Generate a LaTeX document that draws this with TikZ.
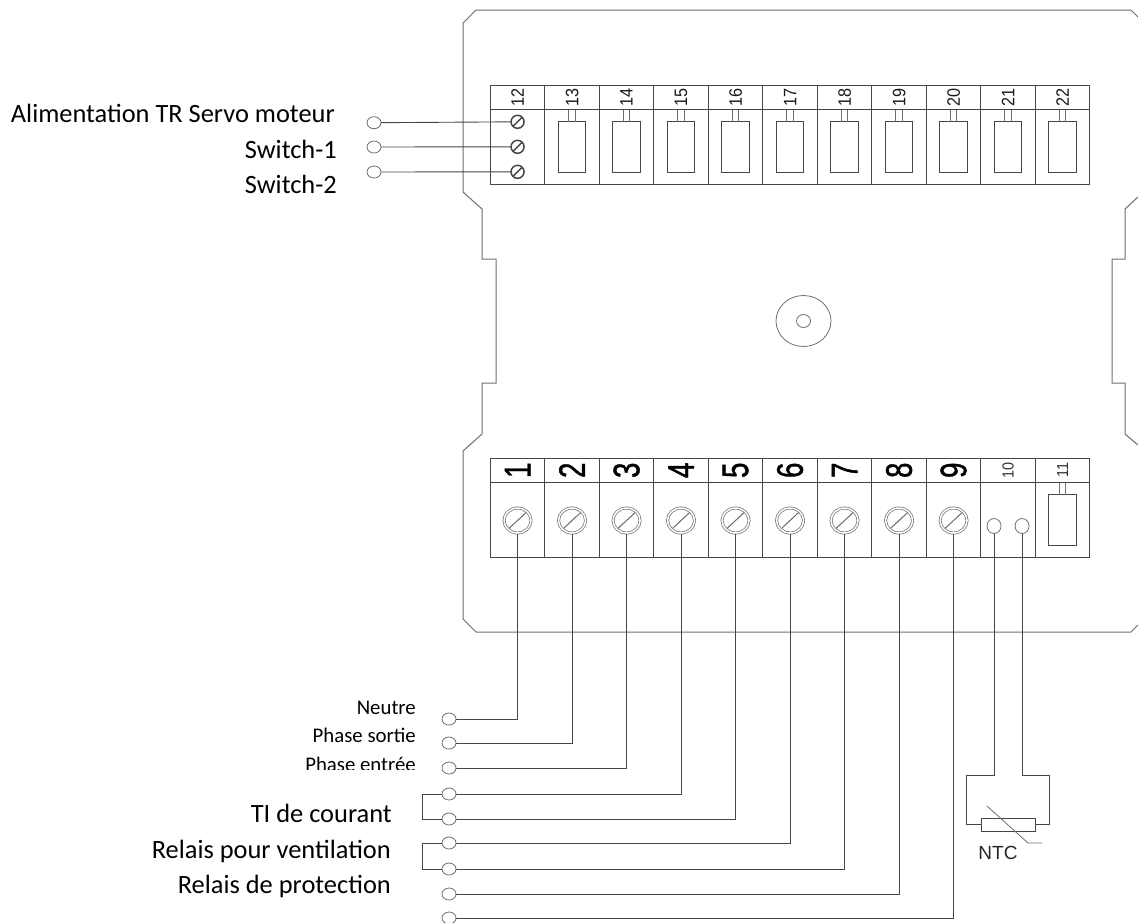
\documentclass[tikz,border=0pt]{standalone}
\usepackage{fontspec}
\setmainfont{Carlito}
\newfontfamily\arialfont{Liberation Sans}
\newfontfamily\arialheavy[FakeBold=1.2]{Liberation Sans}
\usepackage{tikz}
\usetikzlibrary{shapes.geometric,positioning}
\definecolor{outlinegray}{RGB}{110,110,110}
\definecolor{wiregray}{RGB}{70,70,70}

\begin{document}
\begin{tikzpicture}[
    x=1pt, y=-1pt,
    numcell/.style={rectangle, draw=wiregray, line width=0.8pt, minimum width=54.5pt, minimum height=24.5pt, inner sep=0pt, outer sep=0pt},
    bodycell/.style={rectangle, draw=wiregray, line width=0.8pt, minimum width=54.5pt, minimum height=75pt, inner sep=0pt, outer sep=0pt},
    plug/.style={rectangle, draw=wiregray, line width=0.8pt, minimum width=27.5pt, minimum height=51pt, inner sep=0pt, outer sep=0pt},
    stem/.style={draw=outlinegray, line width=0.8pt},
    outline/.style={draw=outlinegray, line width=1pt},
    wire/.style={draw=wiregray, line width=0.9pt},
    lug/.style={ellipse, draw=outlinegray, line width=0.8pt, minimum width=14pt, minimum height=12pt, inner sep=0pt, outer sep=0pt},
    hole/.style={ellipse, draw=outlinegray, line width=0.8pt, minimum width=14pt, minimum height=15pt, inner sep=0pt, outer sep=0pt},
    screwsmall/.style={ellipse, draw=wiregray, line width=1.5pt, minimum width=13pt, minimum height=13pt, inner sep=0pt, outer sep=0pt,
        path picture={\draw[wiregray, line width=1.5pt] (path picture bounding box.south west) -- (path picture bounding box.north east);}},
    screwbig/.style={ellipse, draw=outlinegray, line width=0.7pt, double, double distance=1.5pt, minimum width=27pt, minimum height=25pt, inner sep=0pt, outer sep=1pt,
        path picture={\draw[outlinegray, line width=0.7pt] ([xshift=-1.7pt, yshift=-1.7pt]path picture bounding box.south west) -- ([xshift=-1.7pt, yshift=-1.7pt]path picture bounding box.north east);
        \draw[outlinegray, line width=0.7pt] ([xshift=1.7pt, yshift=1.7pt]path picture bounding box.south west) -- ([xshift=1.7pt, yshift=1.7pt]path picture bounding box.north east);}},
    smallnum/.style={font=\arialfont\fontsize{18}{18}\selectfont, text=black!90, rotate=90, xscale=0.9, inner sep=0pt},
    tinynum/.style={font=\arialfont\fontsize{16}{16}\selectfont, text=black!80, rotate=90, xscale=0.9, inner sep=0pt},
    bignum/.style={font=\arialheavy\fontsize{37}{37}\selectfont, rotate=90, xscale=0.75, inner sep=0pt},
    biglabel/.style={font=\fontsize{26.4}{26.4}\selectfont, anchor=base east, inner sep=0pt},
    smalllabel/.style={font=\fontsize{20.8}{20.8}\selectfont, anchor=base east, inner sep=0pt}
]
\useasboundingbox (0,0) rectangle (1138,922);

% Housing
\draw[outline] (1138,17) -- (1131,10) -- (476,10) -- (463,23) -- (463,192) -- (482,209) -- (482,259) -- (496,259) -- (496,383) -- (482,383) -- (482,434) -- (463,451) -- (463,619) -- (476,632) -- (1131,632) -- (1138,625);
\draw[outline] (1138,197) -- (1125,209) -- (1125,259) -- (1112,259) -- (1112,383) -- (1125,383) -- (1125,434) -- (1138,445);

% Centre hole
\node[ellipse, draw=outlinegray, line width=0.8pt, minimum width=55pt, minimum height=51pt] (washer) at (803.5,321) {};
\node[ellipse, draw=outlinegray, line width=0.8pt, minimum width=14pt, minimum height=13pt, inner sep=0pt] (bore) at (803.5,321) {};

% Upper terminal block
\node[numcell, anchor=north west] (num12) at (490.3,85.3) {};
\node[bodycell, below=0pt of num12] (body12) {};
\foreach \n [evaluate=\n as \p using int(\n-1)] in {13,...,22} {
    \node[numcell, right=0pt of num\p] (num\n) {};
    \node[bodycell, below=0pt of num\n] (body\n) {};
    \node[plug, below=12pt of body\n.north] (plug\n) {};
    \draw[stem] ([xshift=-3.3pt]plug\n.north) -- ([xshift=-3.3pt]body\n.north);
    \draw[stem] ([xshift=3.3pt]plug\n.north) -- ([xshift=3.3pt]body\n.north);
}
\foreach \n in {12,...,22} {
    \node[smallnum] at (num\n) {\n};
}
\node[screwsmall, below=5.5pt of body12.north] (screwa) {};
\node[screwsmall] (screwb) at ([yshift=-37pt]body12.north) {};
\node[screwsmall] (screwc) at ([yshift=-62pt]body12.north) {};

% Lower terminal block
\node[numcell, anchor=north west] (bnum1) at (490.3,458) {};
\node[bodycell, below=0pt of bnum1] (bbody1) {};
\foreach \n [evaluate=\n as \p using int(\n-1)] in {2,...,11} {
    \node[numcell, right=0pt of bnum\p] (bnum\n) {};
    \node[bodycell, below=0pt of bnum\n] (bbody\n) {};
}
\foreach \n in {1,...,9} {
    \node[bignum] at (bnum\n) {\n};
    \node[screwbig] (screw\n) at ([yshift=-38pt]bbody\n.north) {};
}
\node[tinynum] at (bnum10) {10};
\node[tinynum] at (bnum11) {11};
\node[hole] (holea) at ([xshift=-14pt,yshift=-43.5pt]bbody10.north) {};
\node[hole] (holeb) at ([xshift=14pt,yshift=-43.5pt]bbody10.north) {};
\node[plug, below=12pt of bbody11.north] (plug11) {};
\draw[stem] ([xshift=-3.3pt]plug11.north) -- ([xshift=-3.3pt]bbody11.north);
\draw[stem] ([xshift=3.3pt]plug11.north) -- ([xshift=3.3pt]bbody11.north);

% Terminal lugs
\node[lug] (luga) at (374,122.7) {};
\node[lug] (lugb) at (374,147) {};
\node[lug] (lugc) at (374,172) {};
\node[lug] (lug1) at (449,719) {};
\node[lug] (lug2) at (449,743) {};
\node[lug] (lug3) at (449,768) {};
\node[lug] (lug4) at (449,794) {};
\node[lug] (lug5) at (449,819) {};
\node[lug] (lug6) at (449,843) {};
\node[lug] (lug7) at (449,869) {};
\node[lug] (lug8) at (449,894) {};
\node[lug] (lug9) at (449,918) {};
\coordinate (bracketti) at (422,800);
\coordinate (bracketrel) at (422,850);

% Wires - upper block
\draw[wire] (luga) -- (screwa);
\draw[wire] (lugb) -- (screwb);
\draw[wire] (lugc) -- (screwc);

% Wires - lower block
\foreach \n in {1,...,9} {
    \draw[wire] (lug\n) -| (screw\n);
}
\draw[wire] (lug4.west) -- (lug4.west -| bracketti) -- (lug5.west -| bracketti) -- (lug5.west);
\draw[wire] (lug6.west) -- (lug6.west -| bracketrel) -- (lug7.west -| bracketrel) -- (lug7.west);

% NTC
\node[rectangle, draw=wiregray, line width=0.8pt, minimum width=54.7pt, minimum height=13pt, inner sep=0pt, outer sep=0pt] (ntc) at (1008.4,824.5) {};
\coordinate (ntcleft) at (966.7,775);
\coordinate (ntcright) at (1049,775);
\coordinate (ntca) at (987,806);
\coordinate (ntcb) at (1028,843);
\coordinate (ntcc) at (1042,843);
\draw[wire] (holea) -- (holea |- ntcleft) -- (ntcleft) -- (ntc.west -| ntcleft) -- (ntc.west);
\draw[wire] (holeb) -- (holeb |- ntcright) -- (ntcright) -- (ntc.east -| ntcright) -- (ntc.east);
\draw[stem] (ntca) -- (ntcb) -- (ntcc);
\node[font=\arialfont\fontsize{19}{19}\selectfont, text=black!85, inner sep=0pt] (ntclabel) at (998,853) {NTC};

% Labels
\node[biglabel] (lblservo) at (335,122.7) {Alimentation TR Servo moteur};
\node[biglabel] (lblswa) at (337,158.5) {Switch-1};
\node[biglabel] (lblswb) at (337,193) {Switch-2};
\node[smalllabel] (lblneutre) at (416,714) {Neutre};
\node[smalllabel] (lblsortie) at (416,742) {Phase sortie};
\begin{scope}
    \clip (300,745) rectangle (420,769);
    \node[smalllabel] (lblentree) at (416,771.5) {Phase entrée};
\end{scope}
\node[biglabel] (lblti) at (392,822) {TI de courant};
\node[biglabel] (lblventil) at (391,858) {Relais pour ventilation};
\node[biglabel] (lblprot) at (391,893) {Relais de protection};

\end{tikzpicture}
\end{document}
